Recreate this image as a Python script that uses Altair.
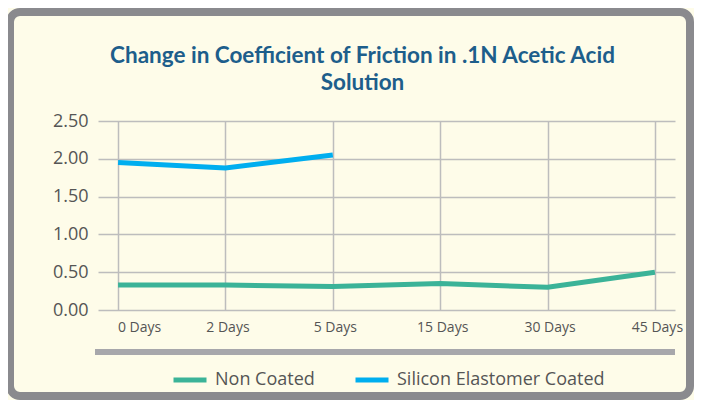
import altair as alt
import pandas as pd

days = ["0 Days", "2 Days", "5 Days", "15 Days", "30 Days", "45 Days"]
non_coated = [0.33, 0.33, 0.31, 0.35, 0.30, 0.50]
silicon_days = ["0 Days", "2 Days", "5 Days"]
silicon = [1.95, 1.88, 2.05]
series_names = ["Non Coated", "Silicon Elastomer Coated"]
series_colors = ["#3bb398", "#00aeef"]
y_ticks = [0, 0.5, 1.0, 1.5, 2.0, 2.5]
title_lines = ["Change in Coefficient of Friction in .1N Acetic Acid", "Solution"]

rows = [{"day": d, "value": v, "series": series_names[0]} for d, v in zip(days, non_coated)]
rows += [{"day": d, "value": v, "series": series_names[1]} for d, v in zip(silicon_days, silicon)]
df = pd.DataFrame(rows)

W, H = 577, 189
CREAM = "#fefce9"

frame = alt.Chart(pd.DataFrame({"k": [0]})).mark_rect(
    fill=None, stroke="#8a8a8e", strokeWidth=8, cornerRadius=10
).encode(
    x=alt.value(-88), x2=alt.value(592), y=alt.value(-109), y2=alt.value(275)
)

bar = alt.Chart(pd.DataFrame({"k": [0]})).mark_rule(
    color="#a7a7ab", strokeWidth=6
).encode(
    x=alt.value(-3), x2=alt.value(W), y=alt.value(231)
)

lines = alt.Chart(df).mark_line(strokeWidth=5).encode(
    x=alt.X("day:N", sort=days,
            scale=alt.Scale(type="point", domain=days, padding=0.187),
            axis=alt.Axis(title=None, labelAngle=0, labelFontSize=14, labelColor="#555555",
                          labelFont="Open Sans", labelPadding=10, ticks=False, domain=False,
                          labelOffset={"condition": {"test": "datum.value === '0 Days'", "value": 21},
                                       "value": 2},
                          grid=True, gridColor="#bdbdbd", gridWidth=1.5)),
    y=alt.Y("value:Q",
            scale=alt.Scale(domain=[0, 2.5], nice=False),
            axis=alt.Axis(title=None, values=y_ticks, format=".2f", labelFontSize=18,
                          labelColor="#555555", labelFont="Open Sans", labelPadding=10,
                          ticks=False, domain=False, grid=True, gridColor="#bdbdbd",
                          gridWidth=1.5)),
    color=alt.Color("series:N",
                    scale=alt.Scale(domain=series_names, range=series_colors),
                    legend=alt.Legend(title=None, orient="none", direction="horizontal",
                                      legendX=73, legendY=240, symbolType="stroke",
                                      symbolStrokeWidth=5, symbolSize=1089,
                                      labelFontSize=18, labelColor="#555555",
                                      labelFont="Open Sans", labelOffset=6,
                                      labelLimit=400, columnPadding=30)),
    detail="series:N",
)

chart = alt.layer(frame, bar, lines).properties(
    width=W, height=H,
    title=alt.TitleParams(title_lines, font="Lato", fontSize=22.5, fontWeight="bold",
                          color="#1d5e8b", anchor="middle", dx=-24, dy=86, offset=0,
                          lineHeight=27),
    autosize=alt.AutoSizeParams(type="none"),
    padding={"left": 90, "top": 113, "right": 19, "bottom": 90},
    background=CREAM,
).configure_view(stroke=None)

chart.save("out.html", embed_options={"renderer": "svg", "actions": False})
